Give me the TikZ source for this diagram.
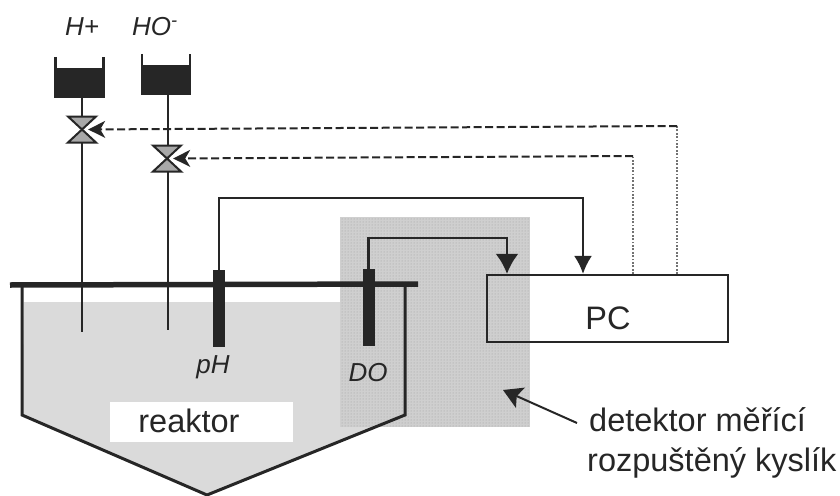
\documentclass[tikz,border=0pt]{standalone}
\usepackage{fontspec}
\setmainfont{Liberation Sans}
\usepackage{xcolor}
\usetikzlibrary{arrows.meta,patterns}
\definecolor{ink}{HTML}{262626}
\definecolor{liquid}{HTML}{DADADA}
\definecolor{stipple}{HTML}{CFCFCF}
\definecolor{valvegray}{HTML}{A8A8A8}
\tikzset{
  wire/.style={line width=2.2pt,draw=ink},
  signal/.style={wire,-{Latex[length=18pt,width=18pt]}},
  signalbig/.style={wire,line width=2.8pt,-{Latex[length=20pt,width=23pt]}},
  control/.style={line width=2pt,draw=ink,dash pattern=on 8pt off 3.5pt,-{Stealth[length=17pt,width=17pt,inset=5pt]}},
  backline/.style={line width=2pt,draw=ink!65,dash pattern=on 1.8pt off 1.6pt},
  wall/.style={line width=3pt,draw=ink,line join=miter},
  probe/.style={fill=ink,draw=none,minimum width=12pt,minimum height=77pt,inner sep=0pt},
  pcbox/.style={draw=ink,line width=2.2pt,minimum width=241pt,minimum height=67pt,inner sep=0pt},
  port/.style={inner sep=0pt,minimum width=12pt,minimum height=27pt},
  label/.style={font=\fontsize{26}{30}\selectfont\itshape,text=ink,inner sep=0pt},
  caption/.style={font=\fontsize{32.5}{38}\selectfont,text=ink,inner sep=0pt},
  valve/.pic={
    \filldraw[fill=valvegray,draw=ink,line width=2pt,line join=miter] (-14,-13) -- (14,-13) -- (0,0) -- cycle;
    \filldraw[fill=valvegray,draw=ink,line width=2pt,line join=miter] (-14,13) -- (14,13) -- (0,0) -- cycle;
  },
  tank/.pic={
    \fill[ink] (-24.5,11) rectangle (24.5,40);
    \draw[line width=2.6pt,draw=ink] (-24,0) -- (-24,40) -- (24,40) -- (24,0);
  }
}
\begin{document}
\begin{tikzpicture}[x=1pt,y=-1pt]
\useasboundingbox (0,0) rectangle (840,495);

% liquid and detector area
\fill[liquid] (24,302) -- (405,302) -- (405,415) -- (207,495) -- (22,415) -- cycle;
\node[fill=white,minimum width=183pt,minimum height=40pt,inner sep=0pt] (reaktorbox) at (201.5,422) {};
\node[caption] (reaktor) at (189,421) {reaktor};
\fill[stipple] (340,217) rectangle (530,427);
\fill[pattern=dots,pattern color=ink!45] (340,217) rectangle (530,427);

% pipes
\coordinate (pipeh) at (82,332);
\coordinate (pipeoh) at (168,330);
\draw[wire] (82,97) -- (pipeh);
\draw[wire] (168,94) -- (pipeoh);

% reactor
\draw[wall] (22,285) -- (22,415) -- (207,495) -- (405,415) -- (405,285);
\draw[line width=5.5pt,draw=ink] (10,285) -- (418,284);

\node[probe] (phprobe) at (219,308.5) {};
\node[probe] (doprobe) at (368.5,307.5) {};
\node[label] (phlabel) at (213,367) {pH};
\node[label] (dolabel) at (368,373) {DO};

% tanks and valves
\pic at (79.5,57) {tank};
\pic at (166,54) {tank};
\node[label] (hplus) at (82,27) {H+};
\node[label] (hminus) at (155,27) {HO\textsuperscript{-}};
\pic at (82,129.5) {valve};
\pic at (167,158.5) {valve};
\node[port] (valveh) at (82,129.5) {};
\node[port] (valveoh) at (167,158.5) {};

\node[pcbox] (pc) at (607.5,308.5) {};
\node[caption] (pclabel) at (608,318) {PC};

% connections to PC
\draw[signal] (phprobe.north) |- (583,198) -- (pc.north -| 583,0);
\draw[signalbig] (doprobe.north) |- (507,238) -- (pc.north -| 507,0);
\coordinate (backh) at (677,126);
\coordinate (backoh) at (633,156);
\draw[backline] (pc.north -| backh) -- (backh);
\draw[backline] (pc.north -| backoh) -- (backoh);
\draw[control] (backh) -- (valveh.east);
\draw[control] (backoh) -- (valveoh.east);

% detector caption
\node[caption,anchor=west] (det1) at (589,420) {detektor měřící};
\node[caption,anchor=west] (det2) at (587,463) {rozpuštěný kyslík};
\draw[line width=2pt,draw=ink,-{Stealth[length=19pt,width=22pt,inset=4pt]}] (det1.west) ++(-12,3) -- (503,390);
\end{tikzpicture}
\end{document}
